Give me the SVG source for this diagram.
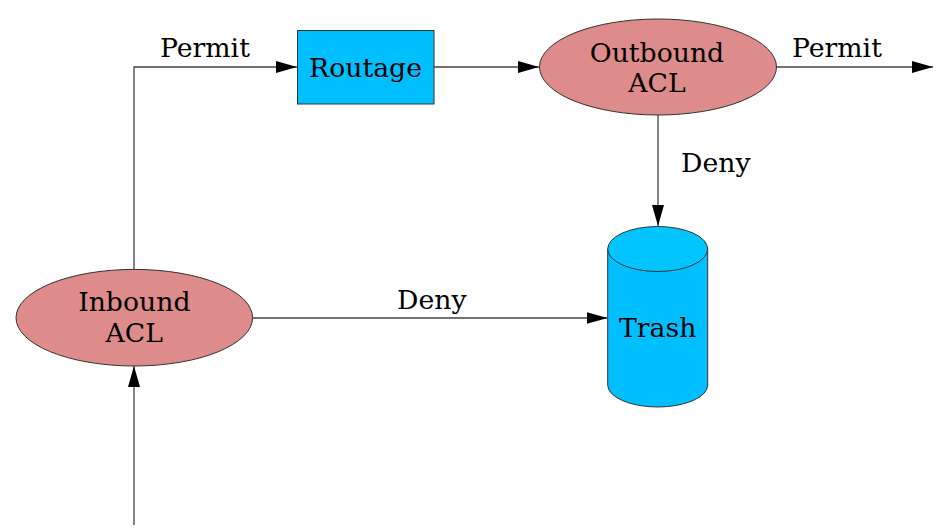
<svg xmlns="http://www.w3.org/2000/svg" width="945" height="532" viewBox="0 0 945 532">
<style>
text{font-family:"DejaVu Serif","Liberation Serif",serif;font-size:26.7px;fill:#000;text-anchor:middle}
.lbl{text-anchor:start}
.ell{fill:#dd8b8b;stroke:#333;stroke-width:1}
.blue{fill:#00bfff;stroke:#333;stroke-width:1}
.edge{fill:none;stroke:#444;stroke-width:1.3}
</style>
<defs>
<marker id="ah" viewBox="0 0 21 12" refX="21" refY="6" markerWidth="21" markerHeight="12" markerUnits="userSpaceOnUse" orient="auto">
<path d="M0,0 L21,6 L0,12 Z" fill="#000"/>
</marker>
</defs>
<rect width="945" height="532" fill="#fff"/>
<g id="connectors">
<path class="edge" d="M134,270 V67 H297" marker-end="url(#ah)"/>
<path class="edge" d="M434,67 H539" marker-end="url(#ah)"/>
<path class="edge" d="M777,67 H933" marker-end="url(#ah)"/>
<path class="edge" d="M658,115 V226" marker-end="url(#ah)"/>
<path class="edge" d="M253,318 H607.5" marker-end="url(#ah)"/>
<path class="edge" d="M134,525 V366" marker-end="url(#ah)"/>
<text class="lbl" x="160" y="57">Permit</text>
<text class="lbl" x="792" y="57">Permit</text>
<text class="lbl" x="681" y="172">Deny</text>
<text class="lbl" x="397" y="309">Deny</text>
</g>
<g id="routage">
<rect class="blue" x="297.5" y="30.5" width="136.5" height="73.5"/>
<text x="365.5" y="77">Routage</text>
</g>
<g id="outbound">
<ellipse class="ell" cx="658" cy="67" rx="118.5" ry="48"/>
<text x="657" y="61.5">Outbound</text>
<text x="657" y="91.5">ACL</text>
</g>
<g id="inbound">
<ellipse class="ell" cx="134.3" cy="317.7" rx="118.3" ry="48.3"/>
<text x="134.3" y="310.5">Inbound</text>
<text x="134.3" y="341.5">ACL</text>
</g>
<g id="trash">
<path class="blue" d="M607.7,249 V385 A50,22 0 0 0 707.7,385 V249"/>
<ellipse class="blue" cx="657.7" cy="249" rx="50" ry="22.5" style="fill:#00c5ff"/>
<text x="657.7" y="337">Trash</text>
</g>
</svg>
